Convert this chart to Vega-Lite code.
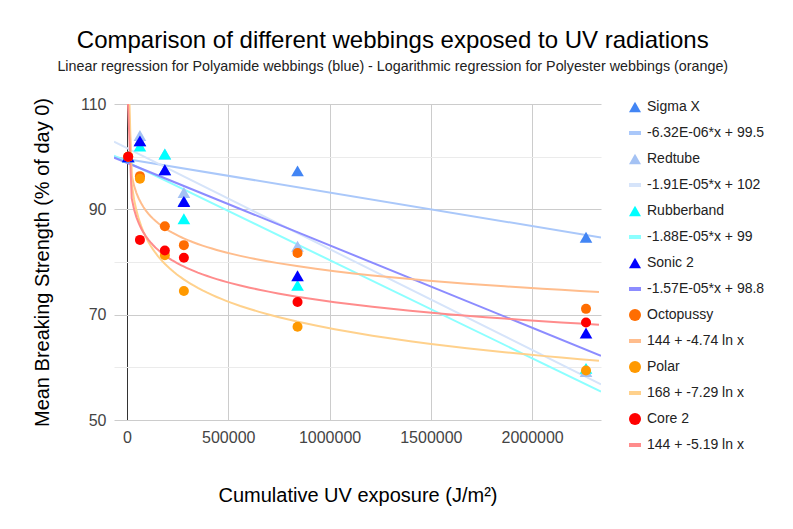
{
  "$schema": "https://vega.github.io/schema/vega-lite/v6.json",
  "width": 487,
  "height": 316,
  "padding": {"left": 32, "top": 28, "right": 5, "bottom": 5},
  "title": {
    "text": "Comparison of different webbings exposed to UV radiations",
    "subtitle": "Linear regression for Polyamide webbings (blue) - Logarithmic regression for Polyester webbings (orange)",
    "anchor": "middle",
    "frame": "bounds",
    "dx": -6,
    "fontSize": 24,
    "fontWeight": "normal",
    "color": "#000",
    "subtitleFontSize": 14.3,
    "subtitleColor": "#222",
    "subtitlePadding": 7,
    "offset": 22
  },
  "data": {
    "values": [
      {"s": "Sigma X", "k": "lin", "t": "-6.32E-06*x + 99.5", "x": 6000, "y": 100},
      {"s": "Sigma X", "k": "lin", "t": "-6.32E-06*x + 99.5", "x": 64000, "y": 103},
      {"s": "Sigma X", "k": "lin", "t": "-6.32E-06*x + 99.5", "x": 187000, "y": 97.5},
      {"s": "Sigma X", "k": "lin", "t": "-6.32E-06*x + 99.5", "x": 281000, "y": 91.6},
      {"s": "Sigma X", "k": "lin", "t": "-6.32E-06*x + 99.5", "x": 842000, "y": 97.3},
      {"s": "Sigma X", "k": "lin", "t": "-6.32E-06*x + 99.5", "x": 2266000, "y": 84.7},
      {"s": "Redtube", "k": "lin", "t": "-1.91E-05*x + 102", "x": 6000, "y": 100},
      {"s": "Redtube", "k": "lin", "t": "-1.91E-05*x + 102", "x": 64000, "y": 104},
      {"s": "Redtube", "k": "lin", "t": "-1.91E-05*x + 102", "x": 187000, "y": 100.5},
      {"s": "Redtube", "k": "lin", "t": "-1.91E-05*x + 102", "x": 281000, "y": 93.2},
      {"s": "Redtube", "k": "lin", "t": "-1.91E-05*x + 102", "x": 842000, "y": 83},
      {"s": "Redtube", "k": "lin", "t": "-1.91E-05*x + 102", "x": 2266000, "y": 59.2},
      {"s": "Rubberband", "k": "lin", "t": "-1.88E-05*x + 99", "x": 6000, "y": 100},
      {"s": "Rubberband", "k": "lin", "t": "-1.88E-05*x + 99", "x": 64000, "y": 102},
      {"s": "Rubberband", "k": "lin", "t": "-1.88E-05*x + 99", "x": 187000, "y": 100.5},
      {"s": "Rubberband", "k": "lin", "t": "-1.88E-05*x + 99", "x": 281000, "y": 88.2},
      {"s": "Rubberband", "k": "lin", "t": "-1.88E-05*x + 99", "x": 842000, "y": 75.6},
      {"s": "Rubberband", "k": "lin", "t": "-1.88E-05*x + 99", "x": 2266000, "y": 59.8},
      {"s": "Sonic 2", "k": "lin", "t": "-1.57E-05*x + 98.8", "x": 6000, "y": 100},
      {"s": "Sonic 2", "k": "lin", "t": "-1.57E-05*x + 98.8", "x": 64000, "y": 103},
      {"s": "Sonic 2", "k": "lin", "t": "-1.57E-05*x + 98.8", "x": 187000, "y": 97.5},
      {"s": "Sonic 2", "k": "lin", "t": "-1.57E-05*x + 98.8", "x": 281000, "y": 91.5},
      {"s": "Sonic 2", "k": "lin", "t": "-1.57E-05*x + 98.8", "x": 842000, "y": 77.4},
      {"s": "Sonic 2", "k": "lin", "t": "-1.57E-05*x + 98.8", "x": 2266000, "y": 66.5},
      {"s": "Octopussy", "k": "log", "t": "144 + -4.74 ln x", "x": 6000, "y": 100},
      {"s": "Octopussy", "k": "log", "t": "144 + -4.74 ln x", "x": 64000, "y": 96.3},
      {"s": "Octopussy", "k": "log", "t": "144 + -4.74 ln x", "x": 187000, "y": 86.8},
      {"s": "Octopussy", "k": "log", "t": "144 + -4.74 ln x", "x": 281000, "y": 83.2},
      {"s": "Octopussy", "k": "log", "t": "144 + -4.74 ln x", "x": 842000, "y": 81.7},
      {"s": "Octopussy", "k": "log", "t": "144 + -4.74 ln x", "x": 2266000, "y": 71.1},
      {"s": "Polar", "k": "log", "t": "168 + -7.29 ln x", "x": 6000, "y": 100},
      {"s": "Polar", "k": "log", "t": "168 + -7.29 ln x", "x": 64000, "y": 95.8},
      {"s": "Polar", "k": "log", "t": "168 + -7.29 ln x", "x": 187000, "y": 81.3},
      {"s": "Polar", "k": "log", "t": "168 + -7.29 ln x", "x": 281000, "y": 74.5},
      {"s": "Polar", "k": "log", "t": "168 + -7.29 ln x", "x": 842000, "y": 67.7},
      {"s": "Polar", "k": "log", "t": "168 + -7.29 ln x", "x": 2266000, "y": 59.4},
      {"s": "Core 2", "k": "log", "t": "144 + -5.19 ln x", "x": 6000, "y": 100},
      {"s": "Core 2", "k": "log", "t": "144 + -5.19 ln x", "x": 64000, "y": 84.2},
      {"s": "Core 2", "k": "log", "t": "144 + -5.19 ln x", "x": 187000, "y": 82.2},
      {"s": "Core 2", "k": "log", "t": "144 + -5.19 ln x", "x": 281000, "y": 80.8},
      {"s": "Core 2", "k": "log", "t": "144 + -5.19 ln x", "x": 842000, "y": 72.4},
      {"s": "Core 2", "k": "log", "t": "144 + -5.19 ln x", "x": 2266000, "y": 68.5}
    ]
  },
  "encoding": {
    "x": {
      "field": "x",
      "type": "quantitative",
      "title": "Cumulative UV exposure (J/m²)",
      "scale": {"domain": [-64000, 2340000], "nice": false, "zero": false},
      "axis": {
        "values": [0, 500000, 1000000, 1500000, 2000000],
        "format": "d",
        "gridColor": {"condition": {"test": "datum.value === 0", "value": "#333333"}, "value": "#cccccc"},
        "labelPadding": 9,
        "titlePadding": 40
      }
    },
    "y": {
      "field": "y",
      "type": "quantitative",
      "title": "Mean Breaking Strength (% of day 0)",
      "scale": {"domain": [50, 110], "nice": false, "zero": false},
      "axis": {
        "values": [50, 60, 70, 80, 90, 100, 110],
        "labelExpr": "datum.value % 20 === 10 ? datum.label : ''",
        "gridColor": {"condition": {"test": "datum.value % 20 === 10", "value": "#cccccc"}, "value": "#ebebeb"},
        "labelPadding": 8,
        "titlePadding": 28
      }
    },
    "color": {
      "type": "nominal",
      "scale": {
        "domain": ["Sigma X", "-6.32E-06*x + 99.5", "Redtube", "-1.91E-05*x + 102", "Rubberband", "-1.88E-05*x + 99", "Sonic 2", "-1.57E-05*x + 98.8", "Octopussy", "144 + -4.74 ln x", "Polar", "168 + -7.29 ln x", "Core 2", "144 + -5.19 ln x"],
        "range": ["#4285f4", "#aac8fa", "#a4c2f4", "#d6e4fa", "#00ffff", "#8cffff", "#0000ff", "#8c8cff", "#ff6d01", "#ffbd8d", "#ff9900", "#ffd18c", "#ff0000", "#ff8c8c"]
      },
      "legend": {
        "title": null,
        "orient": "none",
        "legendX": 514,
        "legendY": -4,
        "labelFontSize": 14,
        "labelColor": "#222222",
        "labelOffset": 5,
        "labelLimit": 300,
        "symbolSize": 144,
        "symbolStrokeWidth": 0,
        "symbolOpacity": 1,
        "rowPadding": 12
      }
    }
  },
  "layer": [
    {
      "transform": [
        {"filter": "datum.k === 'lin'"},
        {"regression": "y", "on": "x", "groupby": ["t"], "method": "linear", "extent": [-64000, 2340000]}
      ],
      "mark": {"type": "line", "strokeWidth": 2, "clip": true},
      "encoding": {"color": {"field": "t"}}
    },
    {
      "transform": [
        {"filter": "datum.k === 'log'"},
        {"regression": "y", "on": "x", "groupby": ["t"], "method": "log", "extent": [300, 2330000]}
      ],
      "mark": {"type": "line", "strokeWidth": 2, "clip": true},
      "encoding": {"color": {"field": "t"}}
    },
    {
      "mark": {"type": "point", "filled": true, "opacity": 1},
      "encoding": {
        "color": {"field": "s"},
        "shape": {
          "field": "s",
          "type": "nominal",
          "scale": {
            "domain": ["Sigma X", "-6.32E-06*x + 99.5", "Redtube", "-1.91E-05*x + 102", "Rubberband", "-1.88E-05*x + 99", "Sonic 2", "-1.57E-05*x + 98.8", "Octopussy", "144 + -4.74 ln x", "Polar", "168 + -7.29 ln x", "Core 2", "144 + -5.19 ln x"],
            "range": ["triangle-up", "M-1,-0.33H1V0.33H-1Z", "triangle-up", "M-1,-0.33H1V0.33H-1Z", "triangle-up", "M-1,-0.33H1V0.33H-1Z", "triangle-up", "M-1,-0.33H1V0.33H-1Z", "circle", "M-1,-0.33H1V0.33H-1Z", "circle", "M-1,-0.33H1V0.33H-1Z", "circle", "M-1,-0.33H1V0.33H-1Z"]
          },
          "legend": {
            "title": null,
            "orient": "none",
            "legendX": 514,
            "legendY": -4,
            "labelFontSize": 14,
            "labelColor": "#222222",
            "labelOffset": 5,
            "labelLimit": 300,
            "symbolSize": 144,
            "symbolStrokeWidth": 0,
            "symbolOpacity": 1,
            "rowPadding": 12
          }
        },
        "size": {
          "field": "k",
          "type": "nominal",
          "scale": {"domain": ["lin", "log"], "range": [160, 100]},
          "legend": null
        }
      }
    }
  ],
  "config": {
    "font": "Liberation Sans",
    "view": {"stroke": null},
    "axis": {
      "ticks": false,
      "domain": false,
      "labelFontSize": 16,
      "labelColor": "#444444",
      "titleFontSize": 20,
      "titleFontWeight": "normal",
      "titleColor": "#000000"
    }
  }
}
